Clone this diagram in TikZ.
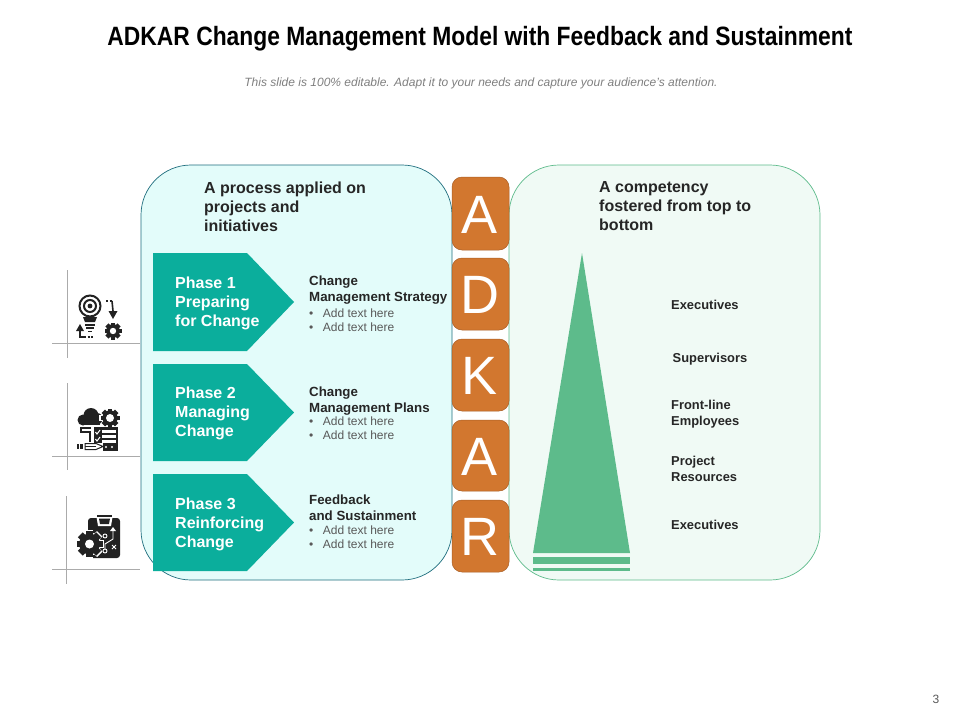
\documentclass[tikz,border=0pt]{standalone}
\usepackage{fontspec}
\setmainfont{Liberation Sans}
\definecolor{txt}{HTML}{262626}
\definecolor{tealf}{HTML}{0BAE9C}
\definecolor{orangef}{HTML}{D2772F}
\definecolor{greenf}{HTML}{5DBB8B}
\definecolor{icon}{HTML}{222222}
\definecolor{panelLfill}{HTML}{E3FCFA}
\definecolor{panelLline}{HTML}{1F6E7E}
\definecolor{panelRfill}{HTML}{F0FAF5}
\newcommand{\fsz}[2]{\fontsize{#1}{#2}\selectfont}
\tikzset{
  x=1pt,y=-1pt,
  panelL/.style={draw=panelLline,line width=.7pt,fill=panelLfill,rounded corners=50pt},
  panelR/.style={draw=greenf,line width=.7pt,fill=panelRfill,rounded corners=50pt},
  letterbox/.style={draw=orangef!80!black,line width=.5pt,fill=orangef,rounded corners=10pt},
  letter/.style={text=white,font=\fsz{54}{54},inner sep=0pt,anchor=center},
  heading/.style={text=txt,font=\fsz{16}{19}\bfseries,align=left,anchor=north west,inner sep=0pt},
  phase/.style={text=white,font=\fsz{16}{19}\bfseries,align=left,anchor=west,inner sep=0pt},
  itemtitle/.style={text=txt,font=\fsz{13.3}{16}\bfseries,align=left,anchor=north west,inner sep=0pt},
  body/.style={text=black!65,font=\fsz{12}{14},align=left,anchor=north west,inner sep=0pt},
  level/.style={text=txt,font=\fsz{12.9}{16}\bfseries,align=left,anchor=west,inner sep=0pt},
  cross/.style={draw=black!33,line width=.7pt},
  ic/.style={draw=icon,line width=1.5pt}
}
\newcommand{\gearshape}[4]{% x,y,r,colour
  \fill[#4] (#1,#2) circle[radius=#3*0.8];
  \foreach \a in {0,45,...,315}{
    \fill[#4,rotate around={\a:(#1,#2)}] (#1-#3*0.26,#2-#3*0.7) rectangle (#1+#3*0.26,#2-#3);
  }
}
\newcommand{\gear}[4]{% x,y,outer r,hole r
  \gearshape{#1}{#2}{#3}{icon}
  \fill[white] (#1,#2) circle[radius=#4];
}
\begin{document}
\begin{tikzpicture}
\useasboundingbox (0,0) rectangle (960,720);
\fill[white] (0,0) rectangle (960,720);

\node[text=black,font=\fsz{26.5}{30}\bfseries,inner sep=0pt,xscale=.862] (title) at (480,38.5) {ADKAR Change Management Model with Feedback and Sustainment};
\node[text=black!50,font=\fsz{12}{14}\itshape,inner sep=0pt] (sub) at (481,83) {This slide is 100\% editable. Adapt it to your needs and capture your audience’s attention.};

% panels
\path[panelL] (141,165) rectangle (452,580);
\path[panelR] (509,165) rectangle (820,580);

% letters
\path[letterbox] (452,177) rectangle (509,250);
\path[letterbox] (452,258) rectangle (509,330);
\path[letterbox] (452,339) rectangle (509,411);
\path[letterbox] (452,420) rectangle (509,491);
\path[letterbox] (452,500) rectangle (509,572);
\node[letter] (lA) at (480,215) {A};
\node[letter] (lD) at (480,295) {D};
\node[letter] (lK) at (480,376) {K};
\node[letter] (lA2) at (480,457) {A};
\node[letter] (lR) at (480,537) {R};

% headings
\node[heading] (hl) at (204,181.5) {A process applied on\\projects and\\initiatives};
\node[heading] (hr) at (599,181.5) {A competency\\fostered from top to\\bottom};

% phase arrows
\fill[tealf] (153,253) -- (247,253) -- (294,302) -- (247,351) -- (153,351) -- cycle;
\fill[tealf] (153,364) -- (247,364) -- (294,412.5) -- (247,461) -- (153,461) -- cycle;
\fill[tealf] (153,474) -- (247,474) -- (294,522.5) -- (247,571) -- (153,571) -- cycle;
\node[phase] (p1) at (175,303) {Phase 1\\Preparing\\for Change};
\node[phase] (p2) at (175,413) {Phase 2\\Managing\\Change};
\node[phase] (p3) at (175,524) {Phase 3\\Reinforcing\\Change};

% item texts
\node[itemtitle] (t1) at (309,275.5) {Change\\Management Strategy};
\node[body] (b1) at (309,309) {•\hspace{9.5pt}Add text here\\•\hspace{9.5pt}Add text here};
\node[itemtitle] (t2) at (309,386.5) {Change\\Management Plans};
\node[body] (b2) at (309,417) {•\hspace{9.5pt}Add text here\\•\hspace{9.5pt}Add text here};
\node[itemtitle] (t3) at (309,495) {Feedback\\and Sustainment};
\node[body] (b3) at (309,526) {•\hspace{9.5pt}Add text here\\•\hspace{9.5pt}Add text here};

% pyramid
\fill[greenf] (582,253) -- (630,553) -- (533,553) -- cycle;
\fill[greenf] (533,557) rectangle (630,564);
\fill[greenf] (533,568) rectangle (630,571);

% levels
\node[level] (e1) at (671,304.5) {Executives};
\node[level] (s1) at (672.5,359.5) {Supervisors};
\node[level] (f1) at (671,414) {Front-line\\Employees};
\node[level] (r1) at (671,469) {Project\\Resources};
\node[level] (e2) at (671,525) {Executives};

% crosshairs
\draw[cross] (67,270) -- (67,358);
\draw[cross] (52,343) -- (140,343);
\draw[cross] (67,383) -- (67,470);
\draw[cross] (52,456) -- (140,456);
\draw[cross] (66,496) -- (66,584);
\draw[cross] (52,569) -- (140,569);

% icon 1: bulb, gear, arrows
\draw[ic,line width=2pt] (90,306) circle[radius=10.5];
\draw[ic,line width=2pt] (90,306) circle[radius=6];
\fill[icon] (90,306) circle[radius=2.4];
\fill[icon] (83,317) -- (97,317) -- (95,322) -- (85,322) -- cycle;
\fill[icon] (85,323.5) rectangle (95,325.5);
\fill[icon] (86,327) rectangle (94,329);
\fill[icon] (88,330.5) rectangle (92,332);
\gear{113}{331}{8.5}{3.2}
\draw[ic,line width=1.4pt,dash pattern=on 2pt off 1.5pt] (106,301) -- (112,301);
\draw[ic,line width=1.6pt] (112,301) -- (113,311);
\fill[icon] (108.5,311) -- (117.5,311) -- (113,319) -- cycle;
\fill[icon] (76,331) -- (84,331) -- (80,324) -- cycle;
\draw[ic,line width=1.6pt] (80,331) -- (80,337) -- (84,337);
\draw[ic,line width=1.4pt,dash pattern=on 2pt off 1.5pt] (84,337) -- (93,337);

% icon 2: cloud, gear, checklist, pencil
\fill[icon] (83,420) circle[radius=5.5];
\fill[icon] (91,415.5) circle[radius=7.5];
\fill[icon] (97,419) circle[radius=6];
\fill[icon] (83,420) rectangle (100,425);
\gearshape{110}{418}{11}{white}
\gear{110}{418}{9.5}{4}
\fill[icon] (93.5,427) rectangle (118,451);
\fill[white] (102,430) rectangle (116,432.5);
\fill[white] (102,435) rectangle (116,437.5);
\fill[white] (102,440) rectangle (116,442.5);
\draw[white,line width=1pt] (95.5,432) -- (97,434) -- (100,430);
\draw[white,line width=1pt] (95.5,439) -- (97,441) -- (100,437);
\fill[white] (106,447) circle[radius=1.2];
\fill[white] (112,447) circle[radius=1.2];
\draw[ic,line width=1.1pt] (91,428) -- (81,428) -- (81,432) -- (90,432) -- (90,442);
\fill[white] (84,442.5) rectangle (103,450.5);
\fill[icon] (77,444) rectangle (83,449);
\fill[white] (79,444) rectangle (80,449);
\draw[ic,line width=1pt] (85,443.5) -- (96,443.5) -- (103,446.5) -- (96,449.5) -- (85,449.5) -- cycle;
\draw[ic,line width=1pt] (85,446.5) -- (96,446.5);

% icon 3: clipboard and gear
\fill[icon,rounded corners=3pt] (88,518) rectangle (120,558);
\fill[white] (96,514) -- (113,514) -- (111,526) -- (98,526) -- cycle;
\fill[icon] (99,518.5) -- (110,518.5) -- (109,524) -- (100,524) -- cycle;
\fill[icon] (97,515) rectangle (112,516.5);
\gearshape{89.5}{544}{14.5}{white}
\gear{89.5}{544}{13}{4.5}
\draw[white,line width=.9pt] (105,536) circle[radius=2];
\draw[white,line width=.9pt] (105,551) circle[radius=2];
\draw[white,line width=.9pt] (105,549) -- (105,544) -- (113,539) -- (113,529);
\fill[white] (110,531) -- (116,531) -- (113,527) -- cycle;
\draw[white,line width=1pt] (112,545) -- (116,549) (116,545) -- (112,549);

% page number
\node[text=black!65,font=\fsz{12}{14},inner sep=0pt] (pg) at (936,699) {3};
\end{tikzpicture}
\end{document}
